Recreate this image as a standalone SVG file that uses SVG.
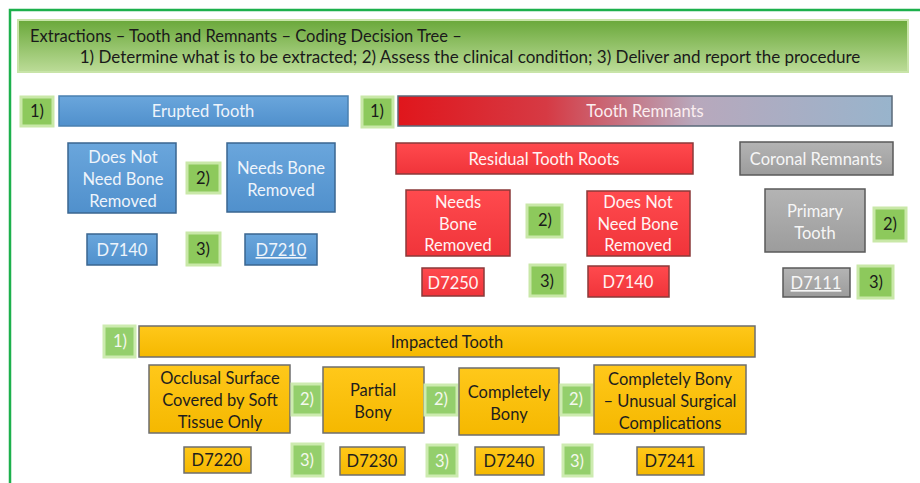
<svg xmlns="http://www.w3.org/2000/svg" width="920" height="483" viewBox="0 0 920 483">
<defs>
<linearGradient id="gTitle" x1="0" y1="0" x2="0" y2="1"><stop offset="0" stop-color="#6aa83a"/><stop offset="1" stop-color="#bcdc98"/></linearGradient>
<linearGradient id="gRem" x1="0" y1="0" x2="1" y2="0"><stop offset="0" stop-color="#e0161c"/><stop offset="0.3" stop-color="#d63a44"/><stop offset="0.6" stop-color="#b8a8bc"/><stop offset="1" stop-color="#98b4cc"/></linearGradient>
<linearGradient id="gBlue" x1="0" y1="0" x2="0" y2="1"><stop offset="0" stop-color="#6aa6dc"/><stop offset="1" stop-color="#5090cc"/></linearGradient>
<linearGradient id="gRed" x1="0" y1="0" x2="0" y2="1"><stop offset="0" stop-color="#ff4a4e"/><stop offset="1" stop-color="#f0343a"/></linearGradient>
<linearGradient id="gGray" x1="0" y1="0" x2="0" y2="1"><stop offset="0" stop-color="#b4b4b4"/><stop offset="1" stop-color="#9c9c9c"/></linearGradient>
<linearGradient id="gYel" x1="0" y1="0" x2="0" y2="1"><stop offset="0" stop-color="#ffc81a"/><stop offset="1" stop-color="#f5b800"/></linearGradient>
</defs>
<style>
text{font-family:Lato,"Open Sans","Liberation Sans",sans-serif;text-anchor:middle;font-size:16.5px;}
.frame{fill:none;stroke:#1cb04c;stroke-width:2.5;}
.lbl rect{fill:#8dc95c;stroke:#c9e8a8;stroke-width:3;}
.lbl text{fill:#1a1a1a;}
.lblw rect{fill:#94cf6c;stroke:#cdebb0;stroke-width:3;}
.lblw text{fill:#f4f8ee;}
.blue rect{fill:url(#gBlue);stroke:#3a6690;stroke-width:1.5;}
.blue text{fill:#eef4fb;}
.red rect{fill:url(#gRed);stroke:#8a3a3a;stroke-width:1.5;}
.red text{fill:#fff3f3;}
.gray rect{fill:url(#gGray);stroke:#5a5a5a;stroke-width:1.5;}
.gray text{fill:#f6f6f6;}
.yel rect{fill:url(#gYel);stroke:#6e6e6e;stroke-width:1.5;}
.yel text{fill:#1e1e1e;}
</style>
<rect class="frame" x="10" y="10" width="930" height="500"/>
<g id="title">
<rect x="18" y="20" width="890" height="52" fill="url(#gTitle)" stroke="#c8e4a8" stroke-width="2"/>
<text x="30" y="42" style="text-anchor:start" fill="#1a1a1a">Extractions – Tooth and Remnants – Coding Decision Tree –</text>
<text x="470" y="63" style="font-size:17px" fill="#1a1a1a">1) Determine what is to be extracted; 2) Assess the clinical condition; 3) Deliver and report the procedure</text>
</g>
<g id="connectors"></g>
<!-- Row 1 -->
<g id="l1a" class="lbl"><rect x="21" y="97" width="32" height="29"/><text x="37" y="117">1)</text></g>
<g id="erupted" class="blue"><rect x="59" y="96" width="289" height="30" style="stroke:#4a80b0"/><text x="203" y="117">Erupted Tooth</text></g>
<g id="l1b" class="lbl"><rect x="362" y="97" width="31" height="30"/><text x="377" y="117">1)</text></g>
<g id="remnants"><rect x="398" y="96" width="494" height="30" fill="url(#gRem)" stroke="#5a6a7a" stroke-width="1.5"/><text x="645" y="117" fill="#fbeef0">Tooth Remnants</text></g>
<!-- Erupted -->
<g id="e_nonbone" class="blue"><rect x="68" y="143" width="108" height="70"/><text x="123" y="163">Does Not</text><text x="123" y="185">Need Bone</text><text x="123" y="207">Removed</text></g>
<g id="e_l2" class="lbl"><rect x="187" y="163" width="33" height="30"/><text x="203" y="184">2)</text></g>
<g id="e_bone" class="blue"><rect x="227" y="143" width="108" height="69"/><text x="281" y="174">Needs Bone</text><text x="281" y="196">Removed</text></g>
<g id="e_d7140" class="blue"><rect x="87" y="234" width="70" height="31"/><text x="122" y="256">D7140</text></g>
<g id="e_l3" class="lbl"><rect x="187" y="233" width="33" height="32"/><text x="203" y="255">3)</text></g>
<g id="e_d7210" class="blue"><rect x="245" y="234" width="72" height="31"/><text x="281" y="256" text-decoration="underline">D7210</text></g>
<!-- Residual -->
<g id="residual" class="red"><rect x="396" y="143" width="297" height="31"/><text x="544" y="165">Residual Tooth Roots</text></g>
<g id="coronal" class="gray"><rect x="740" y="142" width="153" height="33"/><text x="816" y="165">Coronal Remnants</text></g>
<g id="r_bone" class="red"><rect x="406" y="190" width="104" height="66"/><text x="458" y="208">Needs</text><text x="458" y="230">Bone</text><text x="458" y="251">Removed</text></g>
<g id="r_l2" class="lbl"><rect x="527" y="205" width="35" height="32"/><text x="545" y="226">2)</text></g>
<g id="r_nonbone" class="red"><rect x="587" y="191" width="103" height="65"/><text x="638" y="208">Does Not</text><text x="638" y="230">Need Bone</text><text x="638" y="251">Removed</text></g>
<g id="r_d7250" class="red"><rect x="422" y="268" width="62" height="28"/><text x="453" y="289">D7250</text></g>
<g id="r_l3" class="lbl"><rect x="530" y="265" width="35" height="31"/><text x="547" y="287">3)</text></g>
<g id="r_d7140" class="red"><rect x="588" y="266" width="81" height="31"/><text x="628" y="288">D7140</text></g>
<!-- Coronal -->
<g id="c_primary" class="gray"><rect x="765" y="189" width="100" height="63"/><text x="815" y="217">Primary</text><text x="815" y="239">Tooth</text></g>
<g id="c_l2" class="lbl"><rect x="874" y="208" width="32" height="33"/><text x="890" y="230">2)</text></g>
<g id="c_d7111" class="gray"><rect x="783" y="268" width="67" height="29"/><text x="816" y="289" text-decoration="underline">D7111</text></g>
<g id="c_l3" class="lbl"><rect x="858" y="266" width="35" height="32"/><text x="876" y="288">3)</text></g>
<!-- Impacted -->
<g id="l1c" class="lblw"><rect x="104" y="326" width="31" height="31"/><text x="120" y="347">1)</text></g>
<g id="impacted" class="yel"><rect x="139" y="326" width="616" height="31"/><text x="447" y="348">Impacted Tooth</text></g>
<g id="i_soft" class="yel"><rect x="149" y="365" width="141" height="68"/><text x="220" y="384">Occlusal Surface</text><text x="220" y="406">Covered by Soft</text><text x="220" y="428">Tissue Only</text></g>
<g id="i_l2a" class="lblw"><rect x="292" y="384" width="30" height="31"/><text x="307" y="405">2)</text></g>
<g id="i_partial" class="yel"><rect x="323" y="367" width="101" height="66"/><text x="373" y="396">Partial</text><text x="373" y="418">Bony</text></g>
<g id="i_l2b" class="lblw"><rect x="425" y="385" width="32" height="30"/><text x="441" y="405">2)</text></g>
<g id="i_complete" class="yel"><rect x="459" y="368" width="100" height="67"/><text x="509" y="398">Completely</text><text x="509" y="420">Bony</text></g>
<g id="i_l2c" class="lblw"><rect x="561" y="385" width="31" height="30"/><text x="576" y="405">2)</text></g>
<g id="i_unusual" class="yel"><rect x="594" y="365" width="152" height="69"/><text x="670" y="385">Completely Bony</text><text x="670" y="407">– Unusual Surgical</text><text x="670" y="429">Complications</text></g>
<g id="i_d7220" class="yel"><rect x="184" y="447" width="67" height="26"/><text x="217" y="466">D7220</text></g>
<g id="i_l3a" class="lblw"><rect x="292" y="444" width="31" height="32"/><text x="307" y="466">3)</text></g>
<g id="i_d7230" class="yel"><rect x="340" y="447" width="65" height="28"/><text x="372" y="467">D7230</text></g>
<g id="i_l3b" class="lblw"><rect x="427" y="445" width="30" height="31"/><text x="442" y="467">3)</text></g>
<g id="i_d7240" class="yel"><rect x="475" y="447" width="69" height="28"/><text x="509" y="467">D7240</text></g>
<g id="i_l3c" class="lblw"><rect x="563" y="445" width="29" height="31"/><text x="577" y="467">3)</text></g>
<g id="i_d7241" class="yel"><rect x="637" y="447" width="67" height="28"/><text x="670" y="467">D7241</text></g>
</svg>
